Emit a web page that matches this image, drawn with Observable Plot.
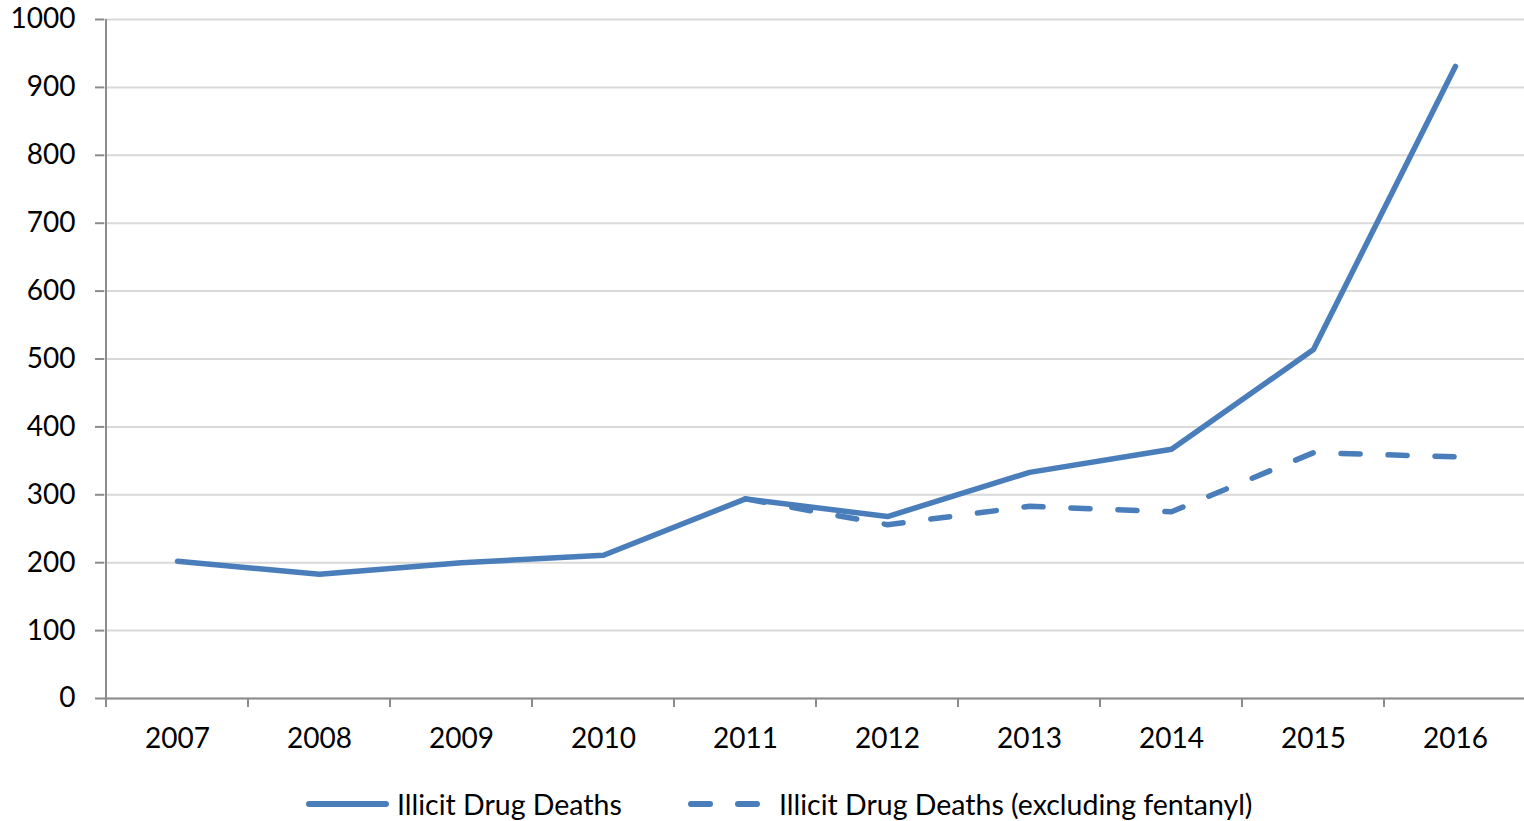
<!DOCTYPE html>
<html>
<head>
<meta charset="utf-8">
<script src="https://cdn.jsdelivr.net/npm/d3@7"></script>
<script src="https://cdn.jsdelivr.net/npm/@observablehq/plot@0.6"></script>
<style>
  html, body { margin: 0; padding: 0; background: #fff; }
  body { width: 1524px; height: 821px; overflow: hidden; font-family: Lato, "Open Sans", sans-serif; }
  #legend { position: relative; height: 61px; }
  .item { position: absolute; top: 14px; display: flex; align-items: center; font-size: 28.5px; color: #000; height: 60px; }
  .item svg { margin-right: 6px; }
</style>
</head>
<body>
<div id="chart"></div>
<div id="legend"></div>
<script>
const years = ["2007","2008","2009","2010","2011","2012","2013","2014","2015","2016"];
const totalDeaths = [202, 183, 200, 211, 294, 268, 333, 367, 514, 931];
const dashYears = ["2011","2012","2013","2014","2015","2016"];
const exclFentanyl = [294, 256, 283, 275, 362, 356];
const yTicks = [0,100,200,300,400,500,600,700,800,900,1000];
const seriesNames = ["Illicit Drug Deaths", "Illicit Drug Deaths (excluding fentanyl)"];

const color = "#4a7ebb";
const axisColor = "#8c8c8c";
const solid = years.map((y, i) => ({year: y, value: totalDeaths[i]}));
const dashed = dashYears.map((y, i) => ({year: y, value: exclFentanyl[i]}));

const plot = Plot.plot({
  width: 1524,
  height: 760,
  marginTop: 19,
  marginBottom: 62,
  marginLeft: 104,
  marginRight: -3,
  style: {fontFamily: "Lato, 'Open Sans', sans-serif", fontSize: "28px", color: "#000", background: "#fff"},
  x: {type: "point", domain: years, padding: 0.5, label: null},
  y: {domain: [0, 1000], label: null},
  marks: [
    Plot.gridY(yTicks, {stroke: "#d9d9d9", strokeOpacity: 1, strokeWidth: 2}),
    Plot.axisY(yTicks, {tickSize: 9, tickPadding: 20, stroke: axisColor, strokeWidth: 2, fontSize: 28, label: null, tickFormat: d => String(d)}),
    Plot.axisX({tickSize: 0, tickPadding: 30, fontSize: 28, label: null}),
    Plot.ruleY([0], {stroke: axisColor, strokeWidth: 2}),
    Plot.line(solid, {x: "year", y: "value", stroke: color, strokeWidth: 5.5, strokeLinejoin: "round", strokeLinecap: "round"}),
    Plot.line(dashed, {x: "year", y: "value", stroke: color, strokeWidth: 5.5, strokeDasharray: "19,28", strokeLinecap: "round", strokeLinejoin: "round"})
  ]
});
document.getElementById("chart").appendChild(plot);

// category boundary ticks and left axis line, positioned from the plot's own scales
const svg = d3.select(plot);
const xs = plot.scale("x");
const ys = plot.scale("y");
const centers = years.map(y => xs.apply(y));
const step = centers[1] - centers[0];
const boundaries = centers.map(c => c - step / 2).concat([centers[centers.length - 1] + step / 2]);
svg.append("g").selectAll("line").data(boundaries).join("line")
  .attr("x1", d => d).attr("x2", d => d)
  .attr("y1", ys.apply(0)).attr("y2", ys.apply(0) + 9)
  .attr("stroke", axisColor).attr("stroke-width", 2);
svg.append("line")
  .attr("x1", boundaries[0]).attr("x2", boundaries[0])
  .attr("y1", ys.apply(1000)).attr("y2", ys.apply(0) + 9)
  .attr("stroke", axisColor).attr("stroke-width", 2);

// legend
const legend = d3.select("#legend");
const items = [
  {name: seriesNames[0], left: 303, dash: null},
  {name: seriesNames[1], left: 685, dash: "19,28"}
];
items.forEach(it => {
  const div = legend.append("div").attr("class", "item").style("left", it.left + "px");
  const s = div.append("svg").attr("width", 88).attr("height", 10);
  s.append("line").attr("x1", 6).attr("x2", 83).attr("y1", 5).attr("y2", 5)
    .attr("stroke", color).attr("stroke-width", 6).attr("stroke-linecap", "round")
    .attr("stroke-dasharray", it.dash);
  div.append("span").text(it.name);
});
</script>
</body>
</html>
